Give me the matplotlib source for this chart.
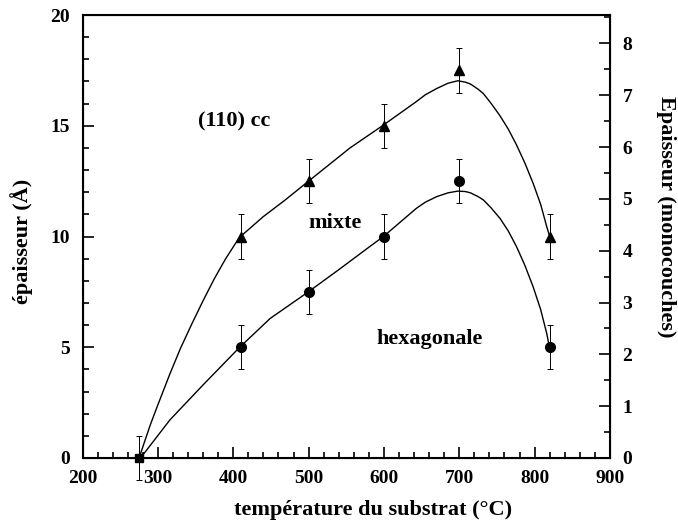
import matplotlib

matplotlib.use("Agg")
import matplotlib.pyplot as plt
from matplotlib.ticker import MultipleLocator

plt.rcParams["font.family"] = ["Liberation Serif", "DejaVu Serif"]
plt.rcParams["font.weight"] = "bold"

# measured points (Å), error bars ±1 Å
temp = [410, 500, 600, 700, 820]
cc_thick = [10, 12.5, 15, 17.5, 10]
hex_thick = [5, 7.5, 10, 12.5, 5]
err = [1, 1, 1, 1, 1]
onset_temp = [275]
onset_thick = [0]

# guide curves
cc_curve_t = [275, 283, 290, 300, 316, 330, 345, 360, 375, 390, 408, 440, 469,
              500, 555, 598, 643, 655, 670, 685, 698, 708, 715, 725, 732, 742,
              754, 765, 776, 787, 798, 808, 816, 820]
cc_curve_v = [0, 0.8, 1.5, 2.4, 3.8, 4.95, 6.05, 7.1, 8.1, 9.0, 9.95, 10.9, 11.65,
              12.5, 14.0, 15.0, 16.09, 16.4, 16.68, 16.92, 17.03, 16.97, 16.88,
              16.65, 16.45, 16.02, 15.45, 14.85, 14.13, 13.32, 12.4, 11.45,
              10.45, 10.0]
hex_curve_t = [277, 316, 360, 408, 449, 498, 540, 581, 599, 620, 643, 655, 670,
               685, 698, 708, 715, 725, 732, 742, 754, 765, 776, 787, 798, 808,
               816, 820]
hex_curve_v = [0, 1.72, 3.3, 4.98, 6.3, 7.46, 8.5, 9.54, 9.99, 10.6, 11.27, 11.55,
               11.8, 11.97, 12.05, 12.03, 11.97, 11.8, 11.65, 11.3, 10.82, 10.25,
               9.54, 8.7, 7.73, 6.7, 5.63, 4.95]

ANGSTROM_PER_ML = 2.34

fig = plt.figure(figsize=(6.78, 5.32), dpi=100)
ax = fig.add_axes([0.1217, 0.1391, 0.778, 0.8327])

ax.plot(cc_curve_t, cc_curve_v, color="black", lw=1.0)
ax.plot(hex_curve_t, hex_curve_v, color="black", lw=1.0)
eb = dict(yerr=err, ecolor="black", elinewidth=0.7, capsize=2.5, capthick=0.7,
          color="black", linestyle="none", markersize=7)
ax.errorbar(temp, cc_thick, fmt="^", **eb)
ax.errorbar(temp, hex_thick, fmt="o", **eb)
ax.errorbar(onset_temp, onset_thick, yerr=[1], fmt="s", color="black",
            ecolor="black", elinewidth=0.7, capsize=2.5, capthick=0.7,
            markersize=6, clip_on=False)

ax.text(353, 15.2, "(110) cc", fontsize=16, fontweight="bold", va="center")
ax.text(500, 10.6, "mixte", fontsize=16, fontweight="bold", va="center")
ax.text(590, 5.36, "hexagonale", fontsize=16, fontweight="bold", va="center")

ax.set_xlim(200, 900)
ax.set_ylim(0, 20)
ax.xaxis.set_major_locator(MultipleLocator(100))
ax.xaxis.set_minor_locator(MultipleLocator(20))
ax.yaxis.set_major_locator(MultipleLocator(5))
ax.yaxis.set_minor_locator(MultipleLocator(1))
ax.tick_params(which="both", direction="in", top=False, right=False,
               labelsize=14, width=1.2)
ax.tick_params(which="major", length=8, pad=9)
ax.tick_params(which="minor", length=4)
for s in ax.spines.values():
    s.set_linewidth(1.5)

ax.set_xlabel("température du substrat (°C)", fontsize=16, fontweight="bold",
              va="center")
ax.xaxis.set_label_coords(0.551, -0.118)
ax.set_ylabel("épaisseur (Å)", fontsize=16, fontweight="bold", va="center")
ax.yaxis.set_label_coords(-0.115, 0.49)

ax2 = ax.twinx()
ax2.set_ylim(0, 20 / ANGSTROM_PER_ML)
ax2.yaxis.set_major_locator(MultipleLocator(1))
ax2.yaxis.set_minor_locator(MultipleLocator(0.5))
ax2.tick_params(which="both", direction="in", labelsize=14, width=1.2)
ax2.tick_params(which="major", length=8, pad=9)
ax2.tick_params(which="minor", length=4)
ax2.set_ylabel("Epaisseur (monocouches)", fontsize=16, fontweight="bold",
               rotation=270, va="center")
ax2.yaxis.set_label_coords(1.106, 0.544)

fig.savefig("out.png", dpi=100)
